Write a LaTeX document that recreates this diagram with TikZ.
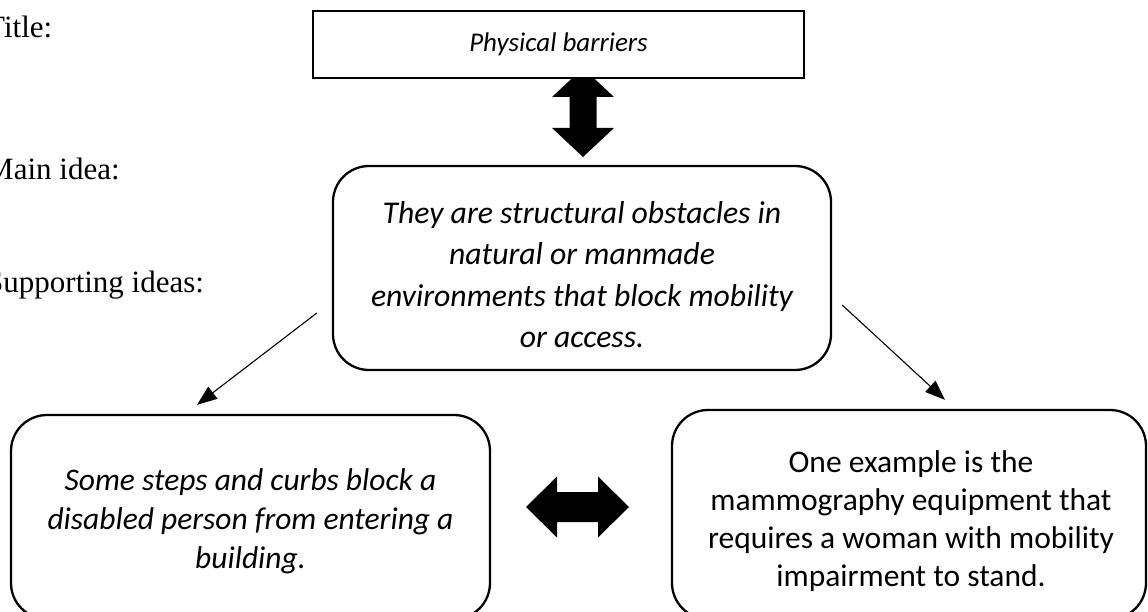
\documentclass[tikz,border=0pt]{standalone}
\usepackage{fontspec}
\setmainfont{Carlito}
\newfontfamily\labelfont{Liberation Serif}
\usetikzlibrary{arrows.meta,calc}
\begin{document}
\begin{tikzpicture}[x=1pt,y=-1pt,
  bubble/.style={draw, line width=2.3pt, rounded corners=36pt, fill=white, inner sep=0pt},
  bodytext/.style={align=center, inner sep=0pt},
  sidelabel/.style={anchor=base west, inner sep=0pt,
    font=\labelfont\fontsize{31}{36}\selectfont},
  conn/.style={line width=1.1pt, -{Triangle[length=20pt,width=15pt]}},
  bigarrow/.style={fill=black}
]
\useasboundingbox (0,0) rectangle (1148,612);
\clip (0,0) rectangle (1148,612);

% row labels on the left margin
\node[sidelabel] (lbltitle) at (-14,38) {Title:};
\node[sidelabel] (lblmain)  at (-14,180) {Main idea:};
\node[sidelabel] (lblsupp)  at (-14,293) {Supporting ideas:};

% thick vertical double arrow between title and main idea
\fill[bigarrow] (583,68) -- (614,97) -- (596.5,97) -- (596.5,128) -- (614,128)
  -- (583,157) -- (552,128) -- (569.5,128) -- (569.5,97) -- (552,97) -- cycle;

% title box
\node[draw, line width=2pt, fill=white, minimum width=491pt, minimum height=67pt,
  inner sep=0pt, font=\itshape\fontsize{27}{32}\selectfont]
  (title) at (558.5,44.5) {Physical barriers};

% main idea
\node[bubble, minimum width=498pt, minimum height=204pt] (main) at (582,268) {};
\node[bodytext, font=\itshape\fontsize{31.7}{41.5}\selectfont]
  (maintext) at (582,274.5) {They are structural obstacles in\\
  natural or manmade\\
  environments that block mobility\\
  or access.};

% supporting ideas
\node[bubble, minimum width=479pt, minimum height=204pt] (left) at (250.5,517) {};
\node[bodytext, font=\itshape\fontsize{31.5}{39}\selectfont]
  (lefttext) at (250.5,521.5) {Some steps and curbs block a\\
  disabled person from entering a\\
  building.};
\node[bubble, minimum width=474pt, minimum height=209pt] (right) at (909,514.5) {};
\node[bodytext, font=\fontsize{31.5}{38}\selectfont]
  (righttext) at (911,521) {One example is the\\
  mammography equipment that\\
  requires a woman with mobility\\
  impairment to stand.};

% thick horizontal double arrow between the supporting ideas
\fill[bigarrow] (526,507) -- (557,476.5) -- (557,492) -- (598,492) -- (598,476.5)
  -- (629,507) -- (598,537.5) -- (598,522) -- (557,522) -- (557,537.5) -- cycle;

% connectors from the main idea down to the supporting ideas
\coordinate (ls) at ($(main.west)+(-15,45)$);
\coordinate (le) at ($(left.north)+(-53.5,-9)$);
\coordinate (rs) at ($(main.east)+(10,37)$);
\coordinate (re) at ($(right.north)+(36,-9)$);
\draw[conn] (ls) -- (le);
\draw[conn] (rs) -- (re);
\end{tikzpicture}
\end{document}
